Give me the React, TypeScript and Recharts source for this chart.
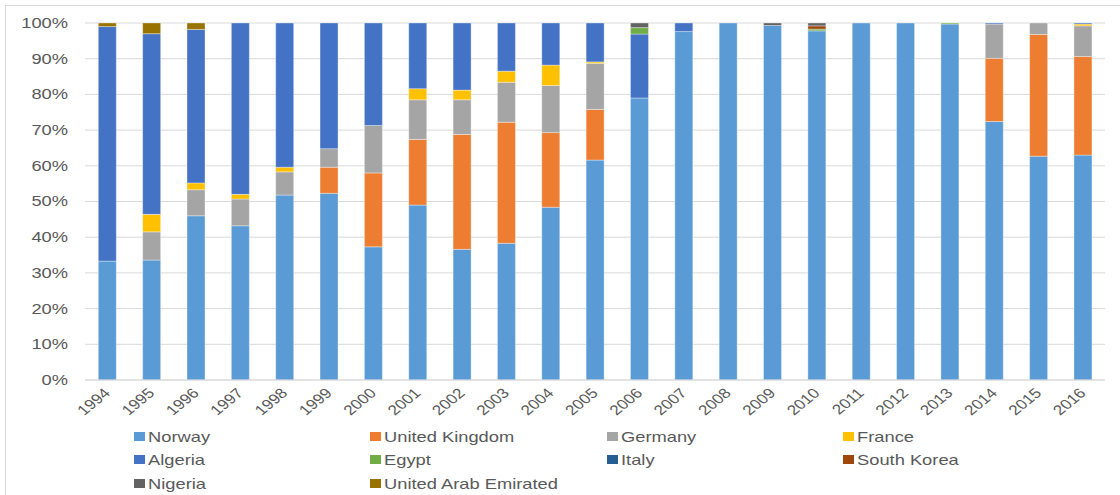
import { BarChart, Bar, XAxis, YAxis, CartesianGrid, Legend } from 'recharts';

const years = [
  '1994', '1995', '1996', '1997', '1998', '1999', '2000', '2001', '2002', '2003', '2004', '2005',
  '2006', '2007', '2008', '2009', '2010', '2011', '2012', '2013', '2014', '2015', '2016',
];

// Share of imports by origin, percent per year
const norway = [33.3, 33.6, 46.0, 43.2, 51.8, 52.3, 37.3, 49.0, 36.6, 38.3, 48.4, 61.6, 79.0, 97.6, 100, 99.3, 97.8, 100, 100, 99.7, 72.4, 62.7, 63.0];
const unitedKingdom = [0, 0, 0, 0, 0, 7.3, 20.7, 18.4, 32.2, 33.9, 20.9, 14.2, 0, 0, 0, 0, 0, 0, 0, 0, 17.7, 34.1, 27.6];
const germany = [0, 7.9, 7.3, 7.5, 6.5, 5.2, 13.3, 11.1, 9.7, 11.2, 13.2, 12.9, 0, 0, 0, 0, 0, 0, 0, 0, 9.6, 3.2, 8.6];
const france = [0, 4.9, 1.9, 1.3, 1.3, 0, 0, 3.1, 2.7, 3.1, 5.7, 0.4, 0, 0, 0, 0, 0, 0, 0, 0, 0, 0, 0.5];
const algeria = [65.7, 50.6, 43.0, 48.0, 40.4, 35.2, 28.7, 18.4, 18.8, 13.5, 11.8, 10.9, 17.9, 2.4, 0, 0, 0, 0, 0, 0, 0.3, 0, 0.3];
const egypt = [0, 0, 0, 0, 0, 0, 0, 0, 0, 0, 0, 0, 1.8, 0, 0, 0, 0.5, 0, 0, 0.3, 0, 0, 0];
const italy = [0, 0, 0, 0, 0, 0, 0, 0, 0, 0, 0, 0, 0, 0, 0, 0, 0, 0, 0, 0, 0, 0, 0];
const southKorea = [0, 0, 0, 0, 0, 0, 0, 0, 0, 0, 0, 0, 0, 0, 0, 0, 0.9, 0, 0, 0, 0, 0, 0];
const nigeria = [0, 0, 0, 0, 0, 0, 0, 0, 0, 0, 0, 0, 1.3, 0, 0, 0.7, 0.8, 0, 0, 0, 0, 0, 0];
const uae = [1.0, 3.0, 1.8, 0, 0, 0, 0, 0, 0, 0, 0, 0, 0, 0, 0, 0, 0, 0, 0, 0, 0, 0, 0];

const yTicks = [0, 0.1, 0.2, 0.3, 0.4, 0.5, 0.6, 0.7, 0.8, 0.9, 1];

const series = [
  { key: 'norway', name: 'Norway', color: '#5B9BD5', values: norway },
  { key: 'uk', name: 'United Kingdom', color: '#ED7D31', values: unitedKingdom },
  { key: 'germany', name: 'Germany', color: '#A5A5A5', values: germany },
  { key: 'france', name: 'France', color: '#FFC000', values: france },
  { key: 'algeria', name: 'Algeria', color: '#4472C4', values: algeria },
  { key: 'egypt', name: 'Egypt', color: '#70AD47', values: egypt },
  { key: 'italy', name: 'Italy', color: '#255E91', values: italy },
  { key: 'southKorea', name: 'South Korea', color: '#9E480E', values: southKorea },
  { key: 'nigeria', name: 'Nigeria', color: '#636363', values: nigeria },
  { key: 'uae', name: 'United Arab Emirated', color: '#997300', values: uae },
];

const chartData = years.map((year, i) => {
  const row: Record<string, string | number> = { year };
  series.forEach((s) => {
    row[s.key] = s.values[i];
  });
  return row;
});

const FONT = "'Liberation Sans', Arial, sans-serif";
const TEXT = '#595959';
const STRETCH = 1.22;

function YTick({ x, y, payload }: any) {
  return (
    <text
      transform={`translate(${x},${y}) scale(${STRETCH},1)`}
      textAnchor="end"
      dominantBaseline="central"
      fill={TEXT}
      fontSize={15}
      fontFamily={FONT}
    >
      {Math.round(payload.value * 100)}%
    </text>
  );
}

function XTick({ x, y, payload }: any) {
  return (
    <text
      transform={`translate(${x + 4},${y + 14}) scale(${STRETCH},1) rotate(-45)`}
      textAnchor="end"
      fill={TEXT}
      fontSize={14}
      fontFamily={FONT}
    >
      {payload.value}
    </text>
  );
}

// Four-column legend, kept in series order (row by row)
function LegendGrid() {
  return (
    <div
      style={{
        display: 'grid',
        gridTemplateColumns: 'repeat(4, 236.3px)',
        paddingLeft: 134,
        height: 70,
        fontFamily: FONT,
        fontSize: 15,
        color: TEXT,
        lineHeight: '23px',
      }}
    >
      {series.map((s) => (
        <div key={s.key} style={{ display: 'flex', alignItems: 'center', height: 23 }}>
          <span style={{ width: 11, height: 9, background: s.color, marginRight: 3, flex: 'none' }} />
          <span
            style={{
              display: 'inline-block',
              whiteSpace: 'nowrap',
              transform: `scaleX(${STRETCH})`,
              transformOrigin: 'left center',
            }}
          >
            {s.name}
          </span>
        </div>
      ))}
    </div>
  );
}

export default function App() {
  return (
    <div style={{ position: 'absolute', left: 0, top: 0, width: 1120, height: 495, background: '#fff', overflow: 'hidden' }}>
      <div
        style={{
          position: 'absolute',
          left: 5,
          top: 5,
          width: 1200,
          height: 600,
          borderTop: '1px solid #d9d9d9',
          borderLeft: '1px solid #d9d9d9',
        }}
      />
      <BarChart
        width={1120}
        height={495}
        data={chartData}
        stackOffset="expand"
        barCategoryGap="30%"
        margin={{ top: 23, right: 15, left: 0, bottom: 0 }}
      >
        <CartesianGrid vertical={false} stroke="#d9d9d9" />
        <XAxis
          dataKey="year"
          axisLine={{ stroke: '#d9d9d9' }}
          tickLine={false}
          tickSize={0}
          tickMargin={0}
          height={45}
          interval={0}
          tick={<XTick />}
        />
        <YAxis
          width={85}
          domain={[0, 1]}
          ticks={yTicks}
          axisLine={false}
          tickLine={false}
          tickSize={0}
          tickMargin={17}
          tick={<YTick />}
        />
        <Legend
          verticalAlign="bottom"
          align="left"
          wrapperStyle={{ left: 0, bottom: 0, width: 1120 }}
          content={<LegendGrid />}
        />
        {series.map((s) => (
          <Bar
            key={s.key}
            dataKey={s.key}
            name={s.name}
            stackId="share"
            fill={s.color}
            stroke="#ffffff"
            strokeOpacity={0.35}
            strokeWidth={1}
            isAnimationActive={false}
          />
        ))}
      </BarChart>
    </div>
  );
}
